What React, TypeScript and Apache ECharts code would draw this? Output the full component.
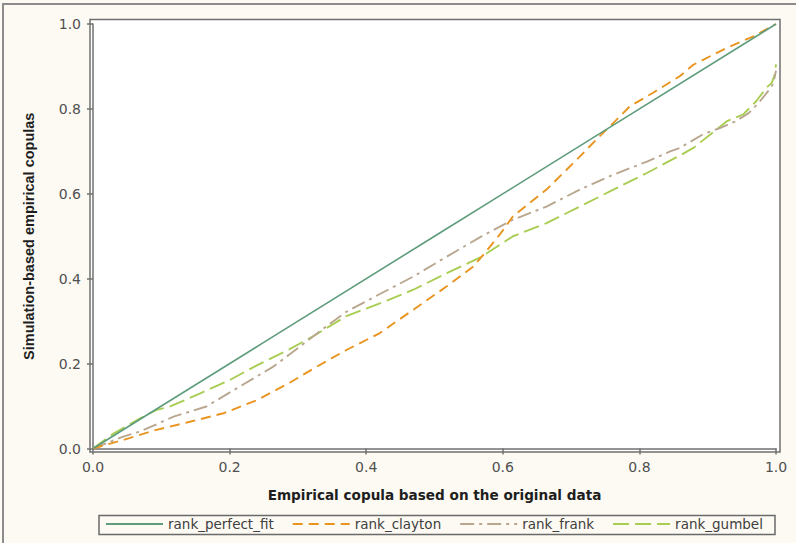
import React, { useEffect, useRef } from "react";
import * as echarts from "echarts";

const seriesNames = ["rank_perfect_fit", "rank_clayton", "rank_frank", "rank_gumbel"];
const axisTicks = [0, 0.2, 0.4, 0.6, 0.8, 1.0];

const perfectFit: [number, number][] = [
  [0, 0], [0.25, 0.25], [0.5, 0.5], [0.75, 0.75], [1, 1],
];

const clayton: [number, number][] = [
  [0, 0], [0.044, 0.02], [0.093, 0.044], [0.142, 0.063], [0.191, 0.083],
  [0.24, 0.114], [0.288, 0.155], [0.33, 0.195], [0.371, 0.232], [0.42, 0.272],
  [0.469, 0.327], [0.518, 0.382], [0.557, 0.429], [0.576, 0.465], [0.596, 0.505],
  [0.615, 0.547], [0.664, 0.61], [0.713, 0.688], [0.737, 0.728], [0.762, 0.767],
  [0.786, 0.806], [0.82, 0.838], [0.859, 0.877], [0.879, 0.904], [0.928, 0.944],
  [0.967, 0.971], [1, 1],
];

const frank: [number, number][] = [
  [0, 0], [0.044, 0.028], [0.069, 0.04], [0.118, 0.075], [0.166, 0.099],
  [0.215, 0.146], [0.264, 0.193], [0.288, 0.222], [0.342, 0.288], [0.371, 0.322],
  [0.42, 0.364], [0.469, 0.405], [0.518, 0.452], [0.567, 0.498], [0.615, 0.539],
  [0.664, 0.57], [0.713, 0.61], [0.762, 0.645], [0.811, 0.676], [0.845, 0.7],
  [0.859, 0.708], [0.893, 0.74], [0.918, 0.755], [0.94, 0.77], [0.96, 0.79],
  [0.975, 0.815], [0.99, 0.845], [0.996, 0.86], [1, 0.89],
];

const gumbel: [number, number][] = [
  [0, 0], [0.03, 0.035], [0.069, 0.071], [0.093, 0.091], [0.113, 0.099],
  [0.157, 0.13], [0.201, 0.162], [0.24, 0.196], [0.288, 0.234], [0.323, 0.265],
  [0.371, 0.312], [0.42, 0.342], [0.469, 0.374], [0.518, 0.413], [0.567, 0.45],
  [0.615, 0.5], [0.664, 0.531], [0.713, 0.57], [0.762, 0.61], [0.811, 0.649],
  [0.859, 0.69], [0.879, 0.708], [0.928, 0.771], [0.952, 0.787], [0.971, 0.818],
  [0.986, 0.85], [0.994, 0.862], [0.998, 0.88], [1, 0.905],
];

const colors = ["#5e9c7c", "#e8941f", "#b9a68e", "#a9cd52"];

export default function App() {
  const ref = useRef<HTMLDivElement>(null);
  useEffect(() => {
    if (!ref.current) return;
    const chart = echarts.init(ref.current, null, { renderer: "svg" });
    const axisColor = "#707070";
    const tickFont = { fontFamily: "DejaVu Sans", fontSize: 14, color: "#505050" };
    const mkLine = (
      name: string,
      data: [number, number][],
      color: string,
      width: number,
      type: any,
      z: number
    ) => ({
      name,
      type: "line",
      data,
      showSymbol: false,
      z,
      lineStyle: { color, width, type },
      itemStyle: { color },
    });
    chart.setOption({
      animation: false,
      backgroundColor: "#fcfaf3",
      color: colors,
      grid: { left: 93, right: 20, top: 24, bottom: 94.5 },
      xAxis: {
        type: "value",
        min: axisTicks[0],
        max: axisTicks[axisTicks.length - 1],
        interval: 0.2,
        offset: 3,
        name: "Empirical copula based on the original data",
        nameLocation: "middle",
        nameGap: 36,
        nameTextStyle: {
          fontFamily: "DejaVu Sans",
          fontWeight: "bold",
          fontSize: 13.6,
          color: "#1e1e1e",
        },
        axisLine: { show: true, lineStyle: { color: axisColor, width: 1.5 } },
        axisTick: { show: true, length: 6, lineStyle: { color: axisColor, width: 1.5 } },
        axisLabel: { ...tickFont, margin: 8, formatter: (v: number) => v.toFixed(1) },
        splitLine: { show: false },
      },
      yAxis: {
        type: "value",
        min: axisTicks[0],
        max: axisTicks[axisTicks.length - 1],
        interval: 0.2,
        offset: 3,
        name: "Simulation-based empirical copulas",
        nameLocation: "middle",
        nameGap: 54,
        nameTextStyle: {
          fontFamily: "Liberation Sans",
          fontWeight: "bold",
          fontSize: 14.5,
          color: "#1e1e1e",
        },
        axisLine: { show: true, lineStyle: { color: axisColor, width: 1.5 } },
        axisTick: { show: true, length: 6, lineStyle: { color: axisColor, width: 1.5 } },
        axisLabel: { ...tickFont, margin: 9, formatter: (v: number) => v.toFixed(1) },
        splitLine: { show: false },
      },
      legend: {
        data: seriesNames,
        left: 105,
        top: 517,
        padding: 0,
        itemWidth: 57,
        itemHeight: 14,
        itemGap: 18,
        itemStyle: { opacity: 0, borderWidth: 0 },
        textStyle: { fontFamily: "DejaVu Sans", fontSize: 13.5, color: "#404040" },
        selectedMode: false,
      },
      graphic: [
        {
          type: "rect",
          z: -2,
          silent: true,
          shape: { x: 3, y: 4, width: 820, height: 600 },
          style: { fill: "none", stroke: "#8c8c8c", lineWidth: 2 },
        },
        {
          type: "rect",
          z: -1,
          silent: true,
          shape: { x: 90, y: 19.5, width: 690, height: 432.5 },
          style: { fill: "#ffffff", stroke: axisColor, lineWidth: 1.5 },
        },
        {
          type: "rect",
          z: -1,
          silent: true,
          shape: { x: 99, y: 515.5, width: 676, height: 19 },
          style: { fill: "none", stroke: "#6a6a6a", lineWidth: 1.5 },
        },
      ],
      series: [
        mkLine(seriesNames[0], perfectFit, colors[0], 1.6, "solid", 5),
        mkLine(seriesNames[1], clayton, colors[1], 1.9, [10, 6], 4),
        mkLine(seriesNames[2], frank, colors[2], 1.9, [14, 5, 3, 5], 3),
        mkLine(seriesNames[3], gumbel, colors[3], 1.9, [16, 6], 2),
      ],
    });
    return () => chart.dispose();
  }, []);
  return (
    <div
      ref={ref}
      style={{ position: "fixed", left: 0, top: 0, width: 796, height: 543 }}
    />
  );
}
